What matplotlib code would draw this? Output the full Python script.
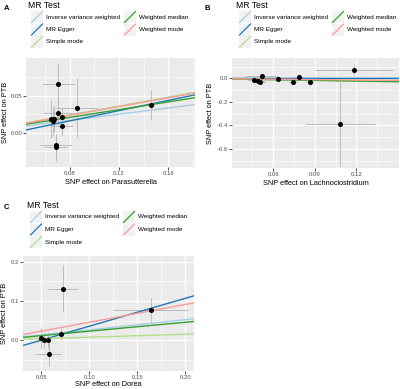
import matplotlib
matplotlib.use("Agg")
import matplotlib.pyplot as plt
from matplotlib.lines import Line2D
from matplotlib.patches import Rectangle
import numpy as np

plt.rcParams['font.family'] = ['Liberation Sans', 'DejaVu Sans']

W, H = 400, 389

methods = ["Inverse variance weighted", "MR Egger", "Simple mode",
           "Weighted median", "Weighted mode"]
colors = ["#a6cee3", "#1f78b4", "#b2df8a", "#33a02c", "#fb9a99"]

# panel A - Parasutterella
a_x = [0.0705, 0.0705, 0.0857, 0.0646, 0.0668, 0.0660, 0.0735, 0.0735, 0.0684, 0.0684, 0.1463]
a_y = [0.0658, 0.0270, 0.0340, 0.0189, 0.0189, 0.0154, 0.0220, 0.0092, -0.0162, -0.0197, 0.0373]
a_xe = [0.013, 0.012, 0.017, 0.005, 0.004, 0.010, 0.006, 0.009, 0.013, 0.009, 0.002]
a_ye = [0.029, 0.016, 0.040, 0.026, 0.018, 0.020, 0.012, 0.012, 0.012, 0.018, 0.020]
a_int = [0.0, -0.0114, 0.0, 0.0, 0.0]
a_slope = [0.210, 0.345, 0.302, 0.261, 0.295]

# panel B - Lachnoclostridium
b_x = [0.1183, 0.1083, 0.0785, 0.0745, 0.0865, 0.0636, 0.0516, 0.0504, 0.0492, 0.0463]
b_y = [0.071, -0.389, 0.0085, -0.034, -0.034, -0.006, 0.020, -0.032, -0.020, -0.014]
b_xe = [0.028, 0.025, 0.003, 0.003, 0.003, 0.003, 0.012, 0.004, 0.004, 0.005]
b_ye = [0.040, 0.360, 0.010, 0.010, 0.010, 0.020, 0.015, 0.010, 0.010, 0.010]
b_int = [0.0, 0.006, 0.0, 0.0, 0.0]
b_slope = [0.02, 0.0, -0.20, -0.19, -0.12]

# panel C - Dorea
c_x = [0.0722, 0.1642, 0.0705, 0.0500, 0.0524, 0.0566, 0.0576]
c_y = [0.131, 0.077, 0.0155, 0.005, 0.0, 0.0, -0.036]
c_xe = [0.015, 0.039, 0.004, 0.003, 0.003, 0.003, 0.013]
c_ye = [0.060, 0.030, 0.015, 0.027, 0.020, 0.020, 0.030]
c_int = [0.0, -0.0359, 0.0, 0.0, 0.0]
c_slope = [0.261, 0.714, 0.075, 0.228, 0.456]


def box(l, t, r, b):
    return [l / W, 1 - b / H, (r - l) / W, (b - t) / H]


def fx(x):
    return x / W


def fy(y):
    return 1 - y / H


def draw_legend(fig, x0, y0):
    """ggplot-style legend, pixel coords: x0 left of title, y0 title centre."""
    fig.text(fx(x0), fy(y0), "MR Test", fontsize=6.2, va="center", ha="left")
    for i, (m, c) in enumerate(zip(methods, colors)):
        col, row = divmod(i, 3)
        kx = x0 + 3 + col * 93
        ky = y0 + 12 + row * 12.5
        fig.patches.append(Rectangle((fx(kx), fy(ky + 6)), 12 / W, 12 / H,
                                     transform=fig.transFigure,
                                     facecolor="#f2f2f2", edgecolor="none"))
        fig.lines.append(Line2D([fx(kx + 0.5), fx(kx + 11.5)],
                                [fy(ky + 5.5), fy(ky - 5.5)],
                                transform=fig.transFigure, color=c, lw=0.9))
        fig.text(fx(kx + 15), fy(ky), m, fontsize=4.6, va="center", ha="left")


def draw_panel(ax, rect, xs, ys, xe, ye, ints, slopes, xlim, ylim,
               xmaj, xmin, ymaj, ymin, xfmt, yfmt, xlab, ylab_x, xlab_y):
    l, t, r, b = rect
    ax.set_facecolor("#ebebeb")
    for s in ax.spines.values():
        s.set_visible(False)
    ax.set_xlim(*xlim)
    ax.set_ylim(*ylim)
    ax.set_xticks(xmaj)
    ax.set_xticks(xmin, minor=True)
    ax.set_yticks(ymaj)
    ax.set_yticks(ymin, minor=True)
    ax.set_xticklabels([xfmt.format(v) for v in xmaj])
    ax.set_yticklabels([yfmt.format(v).replace("\u2212", "-") for v in ymaj])
    ax.grid(which="major", color="white", lw=0.9)
    ax.grid(which="minor", color="white", lw=0.45)
    ax.set_axisbelow(True)
    ax.tick_params(which="major", length=2.0, width=0.6, color="#333333",
                   labelsize=4.3, labelcolor="#4d4d4d", pad=0.8)
    ax.tick_params(which="minor", length=0)
    ax.errorbar(xs, ys, xerr=xe, yerr=ye, fmt="none", ecolor="#b3b3b3",
                elinewidth=0.6, capsize=0, zorder=2)
    for a, b_, c in zip(ints, slopes, colors):
        ax.axline((0, a), slope=b_, color=c, lw=1.0, zorder=3)
    ax.plot(xs, ys, "o", color="black", markersize=2.6, zorder=4)
    ax.set_xlabel(xlab, fontsize=5.3, va="center")
    ax.set_ylabel("SNP effect on PTB", fontsize=5.3, va="center")
    ax.xaxis.set_label_coords(0.5, (b - xlab_y) / (b - t))
    ax.yaxis.set_label_coords((ylab_x - l) / (r - l), 0.5)


fig = plt.figure(figsize=(4.0, 3.89), dpi=100)

rect_a = (26, 58, 195, 167)
ax_a = fig.add_axes(box(*rect_a))
draw_panel(ax_a, rect_a, a_x, a_y, a_xe, a_ye, a_int, a_slope,
           (0.0444, 0.1818), (-0.046, 0.101),
           [0.08, 0.12, 0.16], [0.06, 0.10, 0.14, 0.18],
           [0.0, 0.05], [-0.025, 0.025, 0.075],
           "{:.2f}", "{:.2f}", "SNP effect on Parasutterella", 5.5, 183)

rect_b = (232, 58, 399, 168)
ax_b = fig.add_axes(box(*rect_b))
draw_panel(ax_b, rect_b, b_x, b_y, b_xe, b_ye, b_int, b_slope,
           (0.0303, 0.1507), (-0.763, 0.173),
           [0.06, 0.09, 0.12], [0.045, 0.075, 0.105, 0.135],
           [0.0, -0.2, -0.4, -0.6], [0.1, -0.1, -0.3, -0.5, -0.7],
           "{:.2f}", "{:.1f}", "SNP effect on Lachnoclostridium", 211, 183)

rect_c = (23, 256, 194, 371)
ax_c = fig.add_axes(box(*rect_c))
draw_panel(ax_c, rect_c, c_x, c_y, c_xe, c_ye, c_int, c_slope,
           (0.031, 0.209), (-0.079, 0.215),
           [0.05, 0.10, 0.15, 0.20], [0.075, 0.125, 0.175],
           [0.0, 0.1, 0.2], [-0.05, 0.05, 0.15],
           "{:.2f}", "{:.1f}", "SNP effect on Dorea", 4.5, 385)

draw_legend(fig, 28, 5)
draw_legend(fig, 236, 5)
draw_legend(fig, 27, 205)

fig.text(fx(4), fy(8), "A", fontsize=5.5, fontweight="bold", va="center")
fig.text(fx(205), fy(8), "B", fontsize=5.5, fontweight="bold", va="center")
fig.text(fx(4), fy(208), "C", fontsize=5.5, fontweight="bold", va="center")

fig.savefig("out.png", dpi=100)
